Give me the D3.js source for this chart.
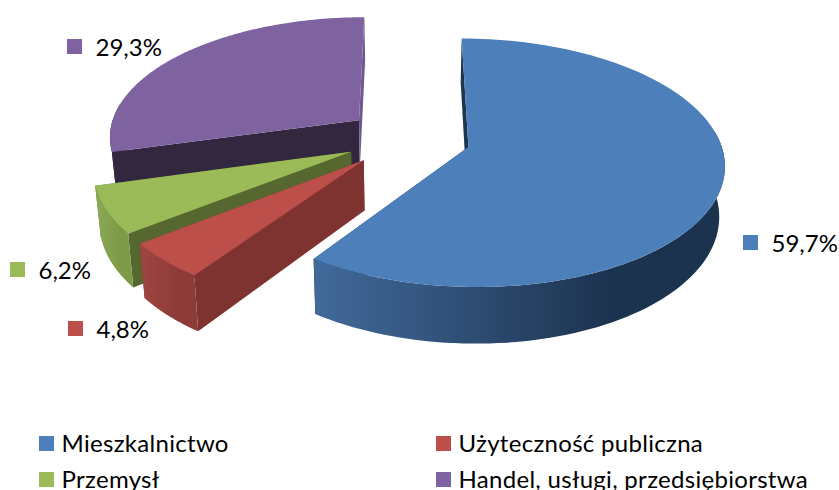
<!DOCTYPE html>
<html>
<head>
<meta charset="utf-8">
<script src="https://cdn.jsdelivr.net/npm/d3@7"></script>
<style>
  html, body { margin: 0; padding: 0; background: #fff; overflow: hidden; }
  text { font-family: Lato, "Open Sans", sans-serif; fill: #000; }
</style>
</head>
<body>
<svg id="chart" width="839" height="490"></svg>
<script>
const categories = ['Mieszkalnictwo', 'Użyteczność publiczna', 'Przemysł', 'Handel, usługi, przedsiębiorstwa']
const shares = [59.7, 4.8, 6.2, 29.3]
const shareLabels = ['59,7%', '4,8%', '6,2%', '29,3%']

const topColors = ['#4d7fba', '#bd4f4b', '#9abb58', '#7f63a0']
const cutColors = ['#1e3550', '#7f3330', '#56682f', '#33273f']
const endCutColors = ['#1e3550', '#7f3330', '#56682f', '#6f5790']
const wallFrom = ['#426a9b', '#a04541', '#8cab58', '#33273f']
const wallTo = ['#1c3350', '#8c3b38', '#7d9a47', '#33273f']

// where the data labels sit, in order of the slices
const labelAnchors = [[743, 235], [68, 321], [10, 262], [67, 39]]
const legendX = [39, 436]
const legendY = [436, 472]

// fake 3D: unit disc laid on a plane, seen in perspective
const CX = 408, CY = 138
const RX = 251, RY = 120
const PERSP = 0.125
const DEPTH = 49
const EXPLODE = 0.25
const TAPER = 0.982  // bottom rim is a bit narrower than the top

function project(u, v, down) {
    let w = 1 + PERSP * v
    let x = RX * u / w
    return [CX + (down ? x * TAPER : x), CY - RY * v / w + (down ? DEPTH / w : 0)]
}

let svg = d3.select('#chart')
let defs = svg.append('defs')
let line = d3.line()

let slices = d3.pie().sort(null)(shares).map((d, i) => {
    let mid = (d.startAngle + d.endAngle) / 2
    return { i, start: d.startAngle, end: d.endAngle, ou: EXPLODE * Math.sin(mid), ov: EXPLODE * Math.cos(mid) }
})

// back to front
let drawOrder = [3, 2, 1, 0]
let chart = svg.append('g')

drawOrder.forEach(i => {
    let s = slices[i]
    let at = (a, down) => project(s.ou + Math.sin(a), s.ov + Math.cos(a), down)
    let apex = down => project(s.ou, s.ov, down)
    let steps = d3.range(0, 121).map(k => s.start + (s.end - s.start) * k / 120)

    // cut faces
    ;[[s.start, cutColors[i]], [s.end, endCutColors[i]]].forEach(([a, color]) => {
        chart.append('path')
            .attr('d', line([apex(false), at(a, false), at(a, true), apex(true)]) + 'Z')
            .attr('fill', color)
    })

    // outer wall, only the part that faces the viewer, shaded left to right
    let frontSteps = steps.filter(a => Math.cos(a) < 0.15)
    let frontTop = frontSteps.map(a => at(a, false))
    let frontBottom = frontSteps.map(a => at(a, true)).reverse()
    let xs = frontTop.map(p => p[0])
    let id = 'wall' + i
    let grad = defs.append('linearGradient').attr('id', id)
        .attr('gradientUnits', 'userSpaceOnUse')
        .attr('x1', d3.min(xs)).attr('x2', d3.max(xs))
        .attr('y1', 0).attr('y2', 0)
    grad.append('stop').attr('offset', 0).attr('stop-color', wallFrom[i])
    grad.append('stop').attr('offset', 0.72).attr('stop-color', wallTo[i])
    grad.append('stop').attr('offset', 1).attr('stop-color', wallTo[i])
    chart.append('path')
        .attr('d', line(frontTop.concat(frontBottom)) + 'Z')
        .attr('fill', `url(#${id})`)

    // top
    chart.append('path')
        .attr('d', line([apex(false)].concat(steps.map(a => at(a, false)))) + 'Z')
        .attr('fill', topColors[i])
})

// data labels
let labels = svg.append('g').selectAll('g')
    .data(shareLabels)
    .join('g')
    .attr('transform', (d, i) => `translate(${labelAnchors[i][0]},${labelAnchors[i][1]})`)
labels.append('rect').attr('width', 15).attr('height', 15)
    .attr('fill', (d, i) => topColors[i])
labels.append('text').attr('x', 28.5).attr('y', 17)
    .attr('font-size', 24).text(d => d)

// legend, two columns
let legend = svg.append('g').selectAll('g')
    .data(categories)
    .join('g')
    .attr('transform', (d, i) => `translate(${legendX[i % 2]},${legendY[Math.floor(i / 2)]})`)
legend.append('rect').attr('width', 15).attr('height', 15)
    .attr('fill', (d, i) => topColors[i])
legend.append('text').attr('x', 22.5).attr('y', 16)
    .attr('font-size', 24).attr('letter-spacing', 0.3).text(d => d)
</script>
</body>
</html>
